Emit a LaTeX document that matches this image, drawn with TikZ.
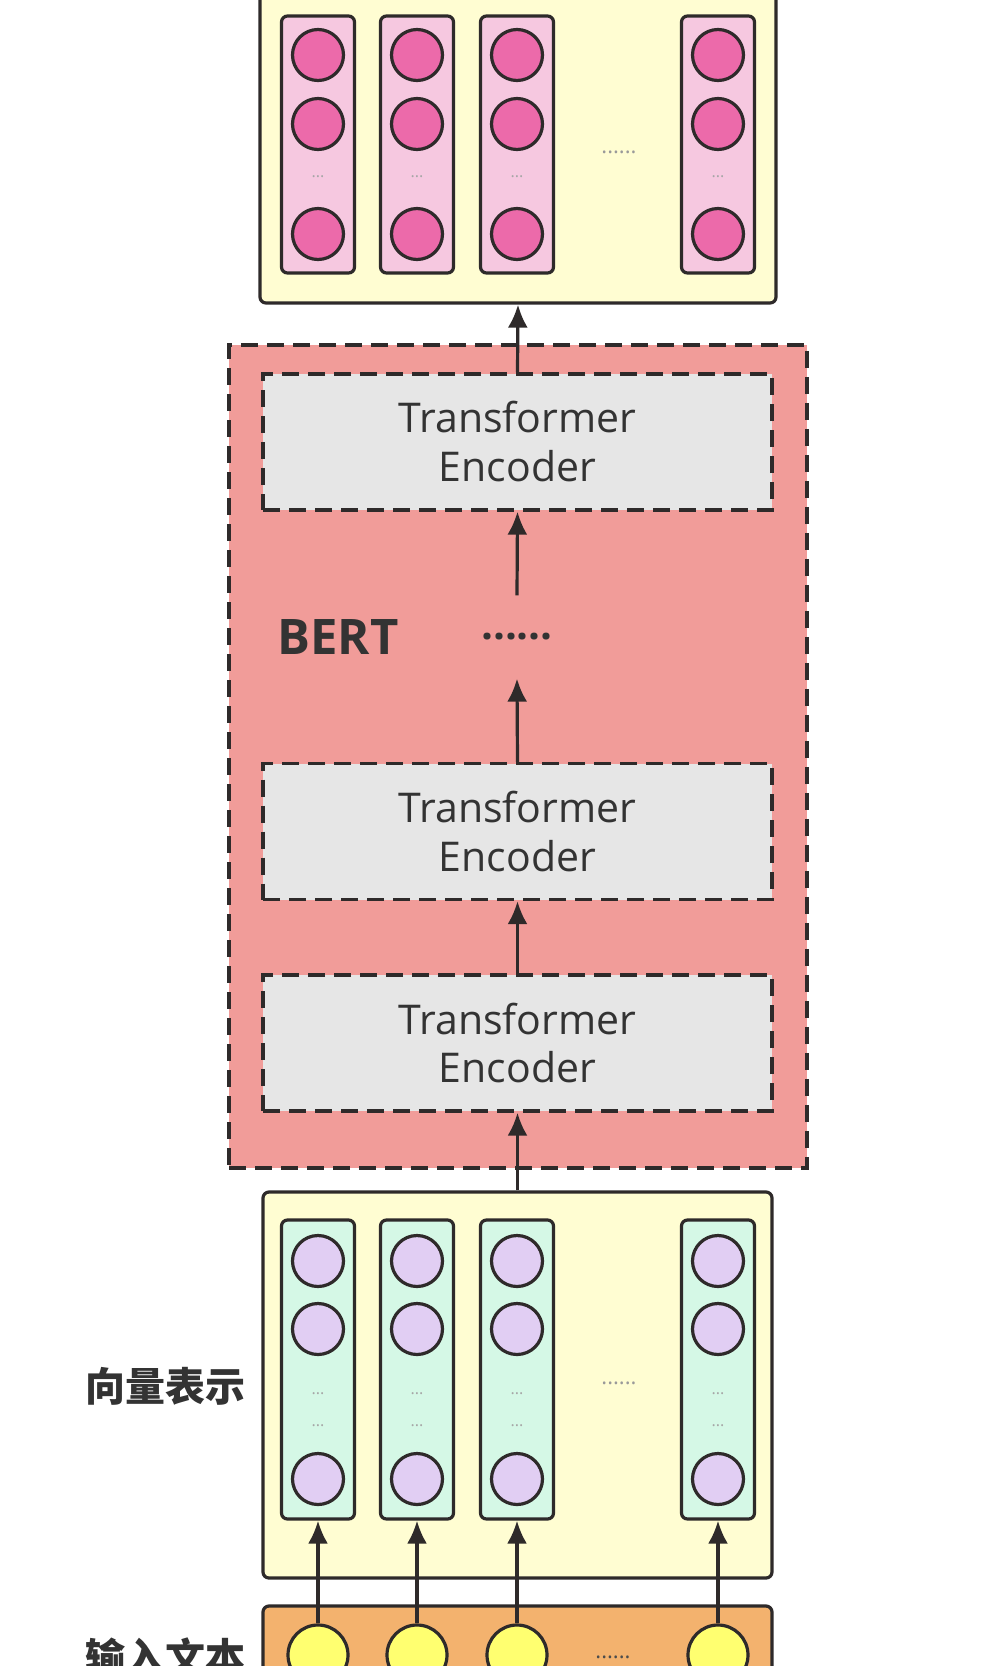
\documentclass[tikz,border=0pt]{standalone}
\usepackage{fontspec}
\setmainfont{Open Sans}
\newfontfamily\cjk{Noto Sans CJK SC}
\usepackage{tikz}
\usetikzlibrary{
    arrows.meta,
    positioning
}
\definecolor{outyellow}{HTML}{FFFDD2}
\definecolor{colpink}{HTML}{F6C8E0}
\definecolor{dotpink}{HTML}{EC6AAA}
\definecolor{bertred}{HTML}{F19C99}
\definecolor{encgray}{HTML}{E6E6E6}
\definecolor{colmint}{HTML}{D5F8E6}
\definecolor{dotlilac}{HTML}{E1CEF3}
\definecolor{inorange}{HTML}{F3B26E}
\definecolor{inyellow}{HTML}{FFFF70}
\definecolor{edgegray}{HTML}{2E2A2A}
\definecolor{textgray}{HTML}{333333}

\begin{document}
\begin{tikzpicture}[x=0.5pt, y=-0.5pt, line width=1.6pt, color=edgegray,
    box/.style={draw, rounded corners=3pt, minimum width=258pt},
    colbox/.style={draw, rounded corners=3pt, minimum width=36.5pt},
    ball/.style={draw, circle, minimum size=25.5pt, inner sep=0pt},
    encbox/.style={draw, dashed, dash pattern=on 8.5pt off 4.5pt, fill=encgray,
        minimum width=254.5pt, minimum height=68pt, align=center,
        text=textgray, font=\fontsize{20.5}{24.5}\selectfont},
    vdot/.style={text=gray!70, font=\fontsize{8}{8}\selectfont, inner sep=0pt},
    hdot/.style={text=gray!80, font=\fontsize{11}{11}\selectfont, inner sep=0pt},
    side/.style={text=textgray, font=\cjk\bfseries\fontsize{20}{20}\selectfont},
    arr/.style={-{Latex[length=11.5pt, width=10pt]}}
]
\useasboundingbox (0, 0) rectangle (990, 1666);
\fill[white] (0, 0) rectangle (990, 1666);
\clip (0, 0) rectangle (990, 1666);

% output layer
\node[box, fill=outyellow, minimum height=161.5pt] (out) at (518, 141.5) {};
\node[hdot] (outdots) at (619, 152) {......};
\foreach \i/\x in {1/318, 2/417, 3/517, 4/718} {
    \node[colbox, fill=colpink, minimum height=128.5pt] (oc\i) at (\x, 144.5) {};
    \node[ball, fill=dotpink] (oa\i) at (\x, 55) {};
    \node[ball, fill=dotpink] (ob\i) at (\x, 124) {};
    \node[ball, fill=dotpink] (oz\i) at (\x, 234) {};
    \node[vdot] (od\i) at (\x, 177) {...};
}

% BERT
\node[draw, dashed, dash pattern=on 8.5pt off 4.5pt, fill=bertred,
    minimum width=289pt, minimum height=411.5pt] (bert) at (518, 756.5) {};
\node[text=textgray, font=\bfseries\fontsize{24.5}{24.5}\selectfont] (bertname) at (338, 637) {BERT};
\node[encbox] (enc1) at (517.5, 442) {Transformer\\Encoder};
\node[text=textgray, font=\bfseries\fontsize{21}{21}\selectfont,
    minimum height=40pt, inner sep=0pt] (mid) at (517, 637) {......};
\node[encbox] (enc2) at (517.5, 831.5) {Transformer\\Encoder};
\node[encbox] (enc3) at (517.5, 1043) {Transformer\\Encoder};

% embeddings
\node[box, fill=outyellow, minimum width=254.5pt, minimum height=193pt] (emb) at (517.5, 1385) {};
\node[hdot] (embdots) at (619, 1383) {......};
\node[side] (embname) at (165, 1386) {向量表示};

% input
\node[box, fill=inorange, minimum width=254.5pt, minimum height=47pt] (inp) at (517.5, 1653) {};
\node[hdot, text=gray!60!black] (inpdots) at (613, 1657) {......};
\node[side] (inpname) at (165, 1657) {输入文本};

\foreach \i/\x in {1/318, 2/417, 3/517, 4/718} {
    \node[colbox, fill=colmint, minimum height=149.5pt] (ec\i) at (\x, 1369.5) {};
    \node[ball, fill=dotlilac] (ea\i) at (\x, 1261) {};
    \node[ball, fill=dotlilac] (eb\i) at (\x, 1329) {};
    \node[ball, fill=dotlilac] (ez\i) at (\x, 1479) {};
    \node[vdot] (eu\i) at (\x, 1394) {...};
    \node[vdot] (ev\i) at (\x, 1426) {...};
    \node[ball, fill=inyellow, minimum size=30pt] (in\i) at (\x, 1655) {};
    \draw[arr] (in\i) -- (ec\i);
}

% arrows
\draw[arr] (emb.north) -- (enc3.south);
\draw[arr] (enc3.north) -- (enc2.south);
\draw[arr] (enc2.north) -- (mid.south);
\draw[arr] (mid.north) -- (enc1.south);
\draw[arr] (enc1.north) -- (out.south);
\end{tikzpicture}
\end{document}
